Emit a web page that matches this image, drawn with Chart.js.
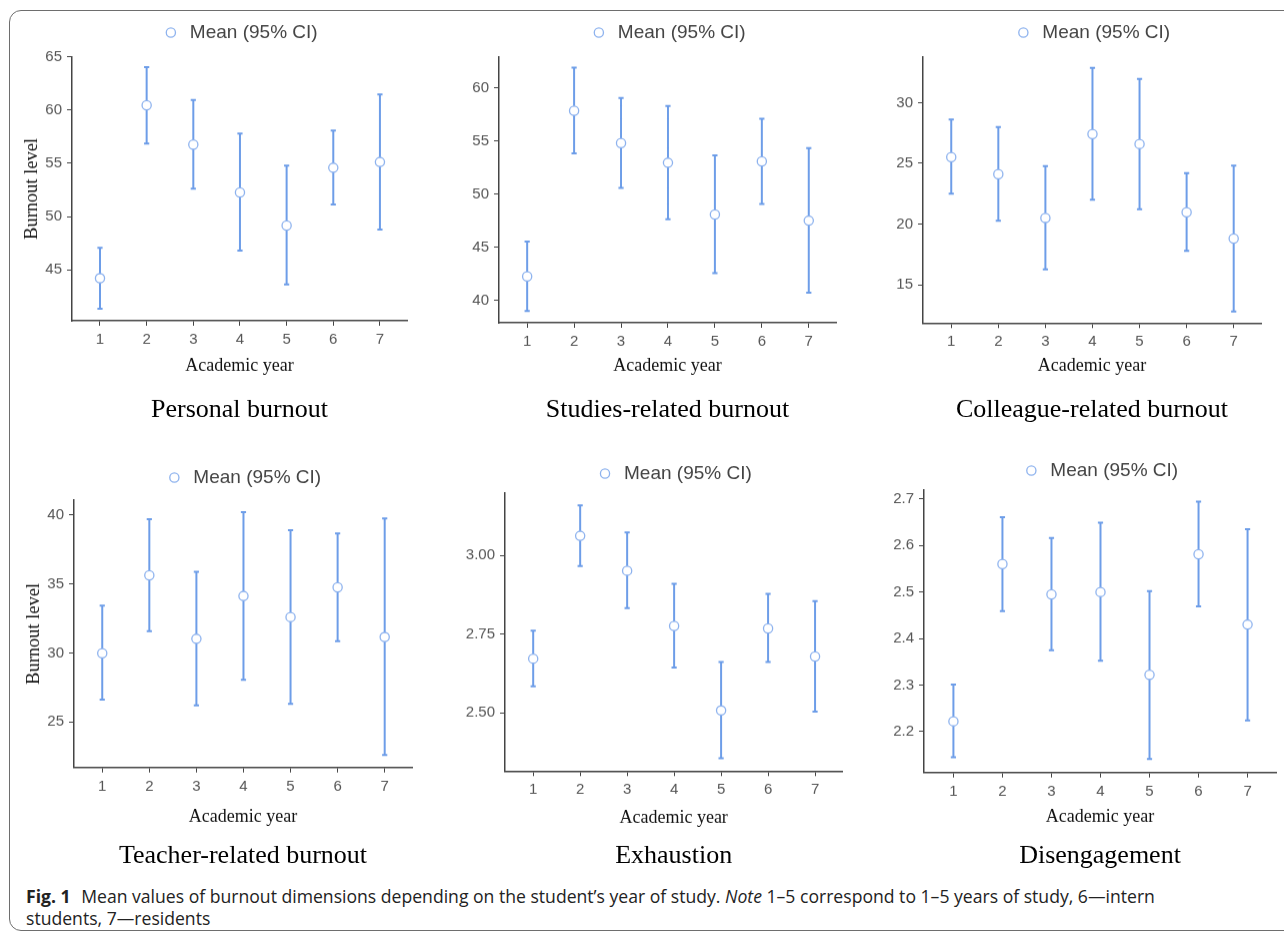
<!DOCTYPE html>
<html lang="en">
<head>
<meta charset="UTF-8">
<title>Burnout dimensions by academic year</title>
<script src="https://cdn.jsdelivr.net/npm/chart.js"></script>
<style>
  body { margin: 0; width: 1284px; height: 931px; overflow: hidden; background: #fff; position: relative; }
  .frame { position: absolute; left: 9px; top: 10px; width: 1300px; height: 919px; border: 1.5px solid #6e6e6e; border-radius: 12px; }
  .panel { position: absolute; }
  .caption { position: absolute; left: 26px; top: 885px; font-family: "Open Sans", sans-serif; font-size: 17.6px; line-height: 22px; color: #222; white-space: nowrap; }
  .caption b { margin-right: 6px; }
</style>
</head>
<body>
<div class="frame"></div>
<div class="panel" id="p1"><canvas></canvas></div>
<div class="panel" id="p2"><canvas></canvas></div>
<div class="panel" id="p3"><canvas></canvas></div>
<div class="panel" id="p4"><canvas></canvas></div>
<div class="panel" id="p5"><canvas></canvas></div>
<div class="panel" id="p6"><canvas></canvas></div>
<div class="caption"><b>Fig. 1</b> Mean values of burnout dimensions depending on the student’s year of study. <i>Note</i> 1–5 correspond to 1–5 years of study, 6—intern<br>students, 7—residents</div>

<script>
// academic years on the x axis
const years = [1, 2, 3, 4, 5, 6, 7];

// mean and 95% CI bounds
const personalMean = [44.22, 60.45, 56.76, 52.27, 49.17, 54.59, 55.13];
const personalLow  = [41.36, 56.85, 52.62, 46.82, 43.65, 51.14, 48.79];
const personalHigh = [47.07, 64.03, 60.96, 57.79, 54.78, 58.07, 61.46];
const personalTicks = ['45', '50', '55', '60', '65'];

const studiesMean = [42.26, 57.83, 54.79, 52.94, 48.07, 53.06, 47.50];
const studiesLow  = [39.00, 53.81, 50.58, 47.63, 42.57, 49.07, 40.72];
const studiesHigh = [45.53, 61.88, 59.03, 58.27, 53.63, 57.08, 54.32];
const studiesTicks = ['40', '45', '50', '55', '60'];

const colleagueMean = [25.51, 24.11, 20.50, 27.41, 26.59, 20.97, 18.80];
const colleagueLow  = [22.49, 20.26, 16.27, 21.99, 21.22, 17.78, 12.80];
const colleagueHigh = [28.60, 27.99, 24.77, 32.86, 31.95, 24.19, 24.80];
const colleagueTicks = ['15', '20', '25', '30'];

const teacherMean = [29.99, 35.64, 31.03, 34.14, 32.61, 34.77, 31.16];
const teacherLow  = [26.62, 31.59, 26.21, 28.05, 26.31, 30.86, 22.60];
const teacherHigh = [33.43, 39.71, 35.90, 40.22, 38.91, 38.67, 39.76];
const teacherTicks = ['25', '30', '35', '40'];

const exhaustionMean = [2.672, 3.063, 2.952, 2.776, 2.507, 2.768, 2.679];
const exhaustionLow  = [2.584, 2.967, 2.833, 2.644, 2.355, 2.661, 2.503];
const exhaustionHigh = [2.761, 3.160, 3.074, 2.910, 2.661, 2.878, 2.855];
const exhaustionTicks = ['2.50', '2.75', '3.00'];

const disengageMean = [2.222, 2.560, 2.495, 2.500, 2.322, 2.581, 2.430];
const disengageLow  = [2.145, 2.459, 2.375, 2.352, 2.141, 2.469, 2.224];
const disengageHigh = [2.301, 2.661, 2.616, 2.649, 2.502, 2.694, 2.635];
const disengageTicks = ['2.2', '2.3', '2.4', '2.5', '2.6', '2.7'];

// panel placement (page pixels) and axis ranges
const panels = [
  { id: 'p1', title: 'Personal burnout', mean: personalMean, low: personalLow, high: personalHigh, ticks: personalTicks,
    yMin: 40.23, yMax: 65, yTitle: 'Burnout level', axisX: 72, right: 409, top: 56.7, bottom: 320, gap: 4.7, xAxisH: 56.5, titlePad: 16.9 },
  { id: 'p2', title: 'Studies-related burnout', mean: studiesMean, low: studiesLow, high: studiesHigh, ticks: studiesTicks,
    yMin: 37.9, yMax: 62.92, yTitle: '', axisX: 499, right: 838, top: 56.7, bottom: 322.3, gap: 4.4, xAxisH: 54.2, titlePad: 16.9 },
  { id: 'p3', title: 'Colleague-related burnout', mean: colleagueMean, low: colleagueLow, high: colleagueHigh, ticks: colleagueTicks,
    yMin: 11.84, yMax: 33.77, yTitle: '', axisX: 923, right: 1263, top: 56.7, bottom: 322.3, gap: 4.7, xAxisH: 54.2, titlePad: 16.9 },
  { id: 'p4', title: 'Teacher-related burnout', mean: teacherMean, low: teacherLow, high: teacherHigh, ticks: teacherTicks,
    yMin: 21.7, yMax: 41.09, yTitle: 'Burnout level', axisX: 74, right: 414, top: 500, bottom: 766.7, gap: 3, xAxisH: 60.8, titlePad: 11.9 },
  { id: 'p5', title: 'Exhaustion', mean: exhaustionMean, low: exhaustionLow, high: exhaustionHigh, ticks: exhaustionTicks,
    yMin: 2.314, yMax: 3.199, yTitle: '', axisX: 504.7, right: 844, top: 492.7, bottom: 770, gap: 0, xAxisH: 57.5, titlePad: 11.9 },
  { id: 'p6', title: 'Disengagement', mean: disengageMean, low: disengageLow, high: disengageHigh, ticks: disengageTicks,
    yMin: 2.112, yMax: 2.719, yTitle: '', axisX: 924, right: 1278, top: 490, bottom: 771.7, gap: 0, xAxisH: 55.8, titlePad: 11.9 }
];

const sans = '"Liberation Sans", Arial, sans-serif';
const serif = '"Liberation Serif", "Times New Roman", serif';
const barColor = '#6d9de8';
const legendFont = 19;
const legendH = legendFont + 4 + 10;   // font + label padding + 10
const yAxisW = 51;

function drawPanel(p) {
  const box = document.getElementById(p.id);
  const left = p.axisX - yAxisW;
  const top = p.top - legendH - p.gap;
  box.style.left = left + 'px';
  box.style.top = top + 'px';
  box.style.width = (p.right + 4 - left) + 'px';
  box.style.height = (p.bottom + p.xAxisH + p.titlePad + 31.2 + 4 - top) + 'px';

  // CI whiskers: low -> high segments, broken by a null between years
  const whiskers = [];
  years.forEach((yr, i) => {
    whiskers.push({ x: yr, y: p.low[i] }, { x: yr, y: p.high[i] }, { x: yr, y: null });
  });
  const means = years.map((yr, i) => ({ x: yr, y: p.mean[i] }));

  const axisGrid = { display: true, drawOnChartArea: false, drawTicks: true, tickLength: 5, color: '#444' };
  const axisBorder = { display: true, color: '#444', width: 1.5 };

  new Chart(box.querySelector('canvas'), {
    type: 'scatter',
    data: {
      datasets: [
        { label: 'Mean (95% CI)', data: means, order: 0, pointStyle: 'circle', pointRadius: 4.6,
          pointBackgroundColor: '#fff', pointBorderColor: '#8db2ee', pointBorderWidth: 1.3,
          backgroundColor: '#fff', borderColor: '#8db2ee' },
        { type: 'line', label: 'CI', data: whiskers, order: 1, showLine: true, spanGaps: false,
          borderColor: barColor, borderWidth: 2, fill: false,
          pointStyle: 'line', pointRadius: 2.6, pointBorderWidth: 2, pointBorderColor: barColor }
      ]
    },
    options: {
      responsive: true,
      maintainAspectRatio: false,
      animation: false,
      layout: { padding: { left: 0, right: 4, top: 0, bottom: 0 } },
      plugins: {
        legend: {
          position: 'top', fullSize: false,
          labels: { filter: item => item.datasetIndex === 0, usePointStyle: true, boxWidth: 19, boxHeight: 6.5,
                    padding: 4, color: '#444', font: { family: sans, size: legendFont } }
        },
        title: {
          display: true, position: 'bottom', fullSize: false, text: p.title, color: '#000',
          font: { family: serif, size: 26, weight: 'normal' }, padding: { top: p.titlePad, bottom: 4 }
        },
        tooltip: { enabled: false }
      },
      scales: {
        x: {
          type: 'linear', min: 0.4, max: 7.58,
          afterBuildTicks: s => { s.ticks = years.map(v => ({ value: v })); },
          ticks: { color: '#555', padding: 5, font: { family: sans, size: 15 } },
          grid: axisGrid, border: axisBorder,
          title: { display: true, text: 'Academic year', color: '#111', font: { family: serif, size: 18 }, padding: 0 },
          afterFit: s => { s.height = p.xAxisH; }
        },
        y: {
          min: p.yMin, max: p.yMax,
          afterBuildTicks: s => { s.ticks = p.ticks.map(t => ({ value: parseFloat(t) })); },
          ticks: { color: '#555', padding: 5, font: { family: sans, size: 15 }, callback: (v, i) => p.ticks[i] },
          grid: axisGrid, border: axisBorder,
          title: { display: !!p.yTitle, text: p.yTitle, color: '#111', font: { family: serif, size: 18.5 }, padding: 0 },
          afterFit: s => { s.width = yAxisW; }
        },
        gap: {
          type: 'linear', position: 'top', display: p.gap > 0,
          grid: { display: false }, border: { display: false }, ticks: { display: false },
          afterFit: s => { s.height = p.gap; }
        }
      }
    }
  });
}

panels.forEach(drawPanel);
</script>
</body>
</html>
